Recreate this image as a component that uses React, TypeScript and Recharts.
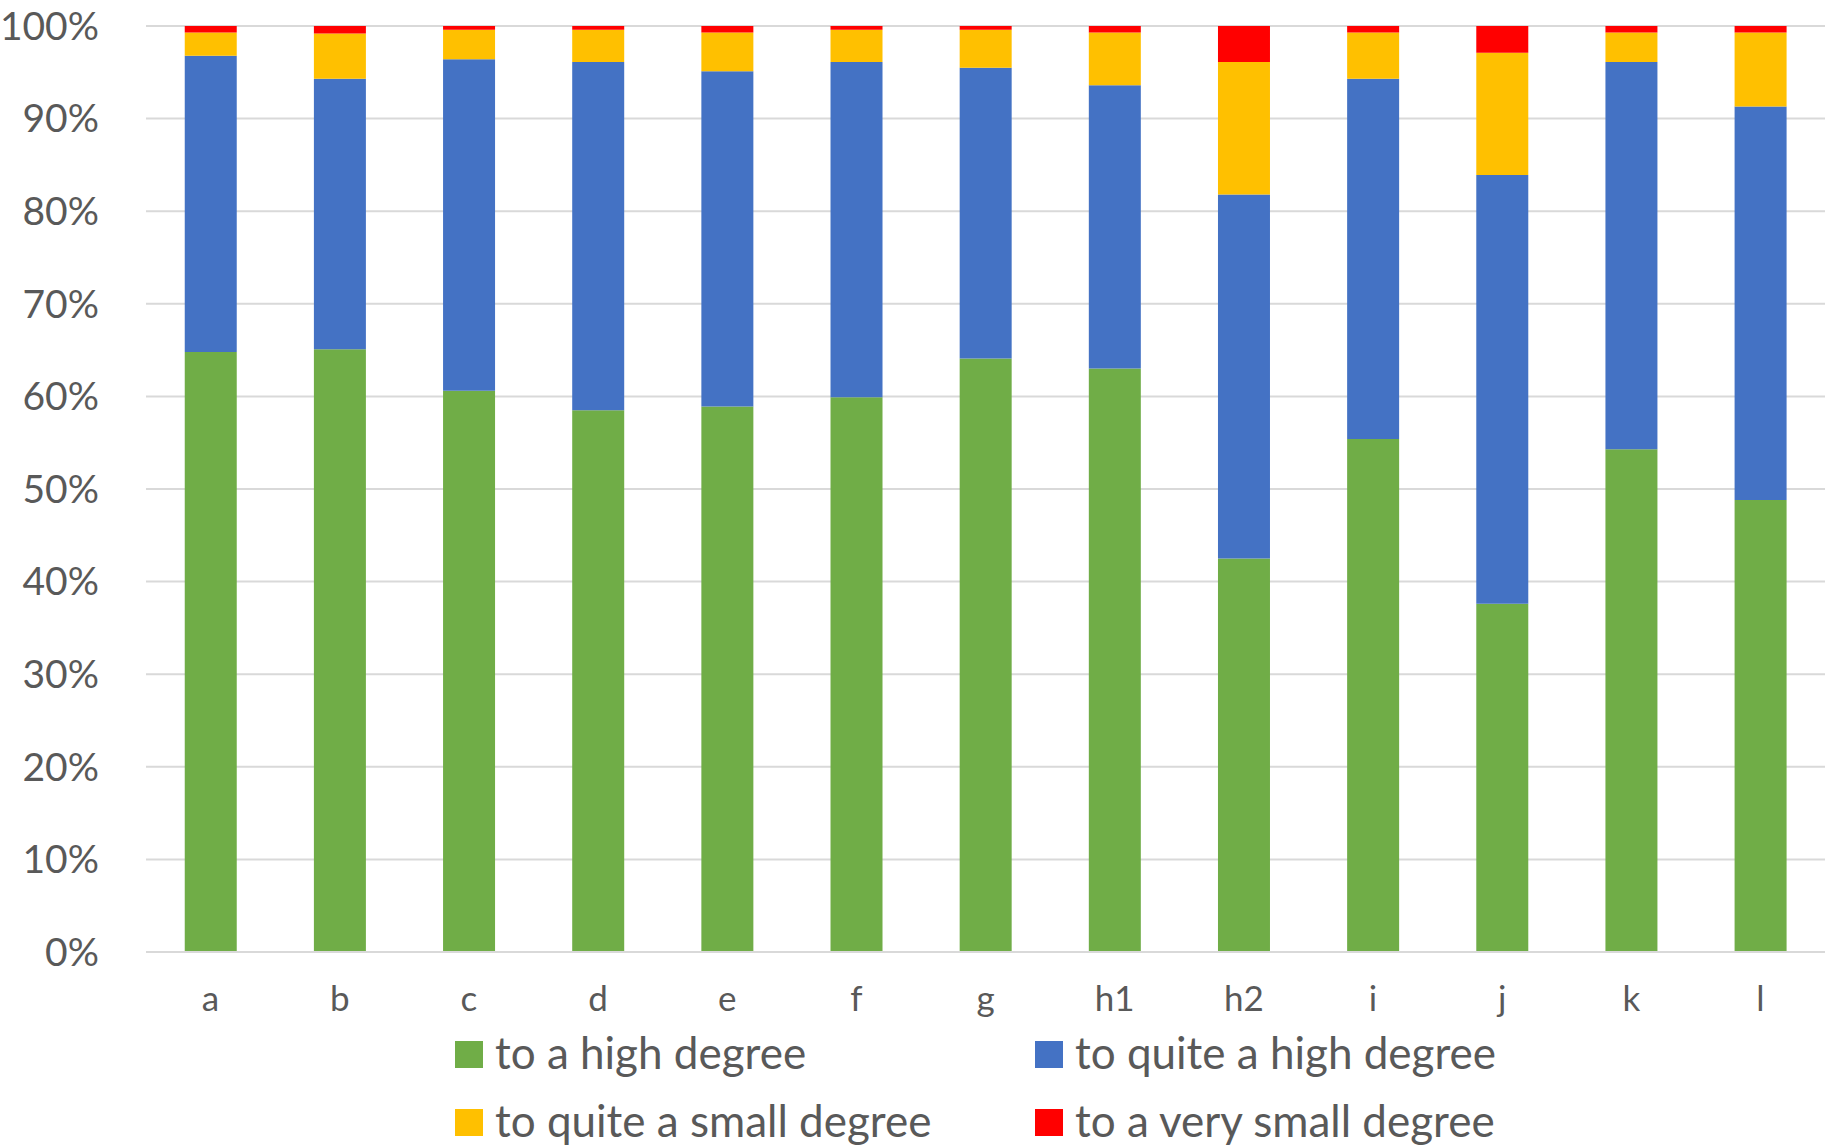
import { BarChart, Bar, XAxis, YAxis, CartesianGrid, Legend } from "recharts"

const categories = ["a", "b", "c", "d", "e", "f", "g", "h1", "h2", "i", "j", "k", "l"]
const highDegree = [64.8, 65.1, 60.6, 58.5, 58.9, 59.9, 64.1, 63.0, 42.5, 55.4, 37.6, 54.3, 48.8]
const quiteHighDegree = [32.0, 29.2, 35.8, 37.6, 36.2, 36.2, 31.4, 30.6, 39.3, 38.9, 46.3, 41.8, 42.5]
const quiteSmallDegree = [2.5, 4.9, 3.2, 3.5, 4.2, 3.5, 4.1, 5.7, 14.3, 5.0, 13.2, 3.2, 8.0]
const verySmallDegree = [0.7, 0.8, 0.4, 0.4, 0.7, 0.4, 0.4, 0.7, 3.9, 0.7, 2.9, 0.7, 0.7]
const yTicks = [0, 10, 20, 30, 40, 50, 60, 70, 80, 90, 100]

const series = [
  { key: "high", name: "to a high degree", color: "#70AD47" },
  { key: "quiteHigh", name: "to quite a high degree", color: "#4472C4" },
  { key: "quiteSmall", name: "to quite a small degree", color: "#FFC000" },
  { key: "verySmall", name: "to a very small degree", color: "#FF0000" },
]

const data = categories.map((name, i) => ({
  name,
  high: highDegree[i],
  quiteHigh: quiteHighDegree[i],
  quiteSmall: quiteSmallDegree[i],
  verySmall: verySmallDegree[i],
}))

const textColor = "#595959"
const gridColor = "#D9D9D9"

function LegendGrid() {
  return (
    <div
      style={{
        height: 130,
        boxSizing: "border-box",
        paddingTop: 25,
        paddingLeft: 455,
        display: "grid",
        gridTemplateColumns: "580px 580px",
        gridTemplateRows: "27px 27px",
        rowGap: 41,
        fontFamily: "Lato",
      }}
    >
      {series.map((s) => (
        <div key={s.key} style={{ display: "flex", alignItems: "center", height: 27 }}>
          <span style={{ width: 28, height: 27, background: s.color, display: "inline-block", flexShrink: 0 }} />
          <span
            style={{
              marginLeft: 12,
              fontSize: 44,
              lineHeight: 1,
              color: textColor,
              whiteSpace: "nowrap",
              position: "relative",
              top: -3,
            }}
          >
            {s.name}
          </span>
        </div>
      ))}
    </div>
  )
}

export default function App() {
  return (
    <div style={{ position: "absolute", left: 0, top: 0, background: "#fff" }}>
      <BarChart
        width={1825}
        height={1146}
        data={data}
        margin={{ top: 26, right: 0, left: 0, bottom: 0 }}
        barCategoryGap="30%"
        style={{ fontFamily: "Lato" }}
      >
        <CartesianGrid vertical={false} stroke={gridColor} strokeWidth={2} />
        <XAxis
          dataKey="name"
          height={64}
          tickLine={false}
          tickSize={0}
          tickMargin={34}
          axisLine={{ stroke: gridColor, strokeWidth: 2 }}
          tick={{ fill: textColor, fontSize: 35 }}
        />
        <YAxis
          width={146}
          domain={[0, 100]}
          ticks={yTicks}
          interval={0}
          axisLine={false}
          tickLine={false}
          tickSize={0}
          tickMargin={47}
          tickFormatter={(v) => `${v}%`}
          tick={{ fill: textColor, fontSize: 39 }}
        />
        <Legend verticalAlign="bottom" content={() => <LegendGrid />} />
        {series.map((s) => (
          <Bar key={s.key} dataKey={s.key} name={s.name} stackId="a" fill={s.color} isAnimationActive={false} />
        ))}
      </BarChart>
    </div>
  )
}
